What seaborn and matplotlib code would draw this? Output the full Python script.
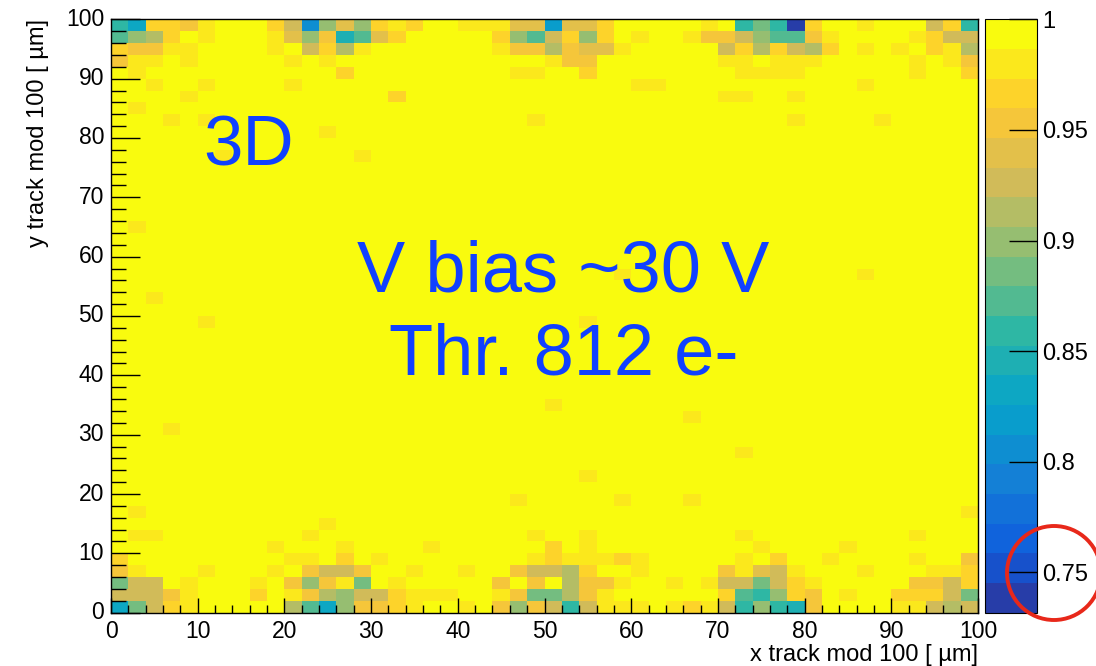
import numpy as np
import pandas as pd
import matplotlib
matplotlib.use("Agg")
import matplotlib.pyplot as plt
import seaborn as sns
from matplotlib.colors import ListedColormap, LinearSegmentedColormap
from matplotlib.patches import Ellipse
from matplotlib.ticker import FixedLocator, MultipleLocator, FuncFormatter

plt.rcParams['font.family'] = ['Liberation Sans', 'DejaVu Sans']

# ---------------- data (efficiency per 2x2 um bin, 50x50 bins) ----------------
N_BINS = 50
BIN_UM = 2.0
Z_MIN, Z_MAX = 0.7318, 1.0
N_CONTOURS = 20

# bottom rows (y bin 0..4), x bins 0..49
row_y0 = [0.833, 0.886, 0.926, 0.966, 0.980, 1, 1, 1, 1, 1,
          0.913, 0.873, 0.833, 0.900, 0.953, 0.953, 0.966, 0.980, 1, 1,
          0.980, 1, 0.953, 0.900, 0.953, 0.926, 0.859, 0.926, 0.980, 0.980,
          0.980, 1, 0.980, 0.966, 0.980, 0.926, 0.859, 0.900, 0.859, 0.846,
          0.953, 1, 1, 1, 1, 0.980, 0.980, 0.926, 0.913, 0.926]
row_y1 = [0.926, 0.926, 0.926, 0.953, 0.980, 1, 1, 1, 0.966, 1,
          0.980, 0.953, 0.913, 0.900, 0.926, 0.926, 0.966, 0.980, 0.980, 0.980,
          1, 1, 0.980, 0.953, 0.886, 0.886, 0.913, 0.953, 0.980, 1,
          1, 1, 1, 1, 1, 0.966, 0.873, 0.859, 0.900, 0.966,
          0.953, 1, 0.980, 1, 1, 0.966, 0.966, 0.966, 0.926, 0.886]
row_y2 = [0.886, 0.926, 0.926, 1, 0.980, 1, 1, 1, 0.980, 1,
          0.953, 0.900, 0.953, 0.980, 0.886, 1, 0.980, 1, 1, 1,
          1, 1, 0.953, 1, 0.953, 1, 0.913, 0.953, 0.953, 0.980,
          1, 1, 0.980, 1, 0.980, 0.926, 0.926, 0.886, 0.926, 0.966,
          0.980, 1, 1, 1, 1, 1, 0.953, 0.953, 0.926, 0.966]
row_y3 = [0.953, 0.980, 1, 1, 1, 0.980, 1, 1, 1, 0.980,
          1, 0.953, 0.926, 0.926, 0.953, 1, 1, 0.980, 1, 1,
          0.980, 1, 1, 0.953, 0.926, 0.926, 0.913, 0.966, 1, 1,
          0.980, 1, 1, 1, 1, 0.953, 0.980, 0.940, 0.926, 0.980,
          1, 1, 1, 0.980, 1, 1, 1, 0.980, 0.980, 0.966]
row_y4 = [0.966, 1, 1, 1, 1, 1, 1, 1, 1, 1,
          0.980, 0.980, 1, 0.966, 1, 0.980, 1, 1, 1, 1,
          1, 1, 1, 1, 0.980, 0.966, 0.980, 0.980, 0.980, 0.966,
          0.980, 1, 1, 1, 1, 1, 0.980, 1, 0.966, 1,
          1, 0.980, 1, 1, 1, 1, 0.980, 1, 1, 0.953]

# top rows (y bin 45..49)
row_y45 = [1, 0.980, 1, 1, 1, 1, 1, 1, 1, 1,
           1, 1, 1, 0.966, 1, 1, 1, 1, 1, 1,
           1, 1, 1, 0.980, 0.980, 1, 1, 0.966, 1, 1,
           1, 1, 1, 1, 1, 1, 0.980, 0.980, 0.980, 0.980,
           1, 1, 1, 1, 1, 1, 0.980, 1, 1, 0.966]
row_y46 = [0.953, 0.980, 0.980, 1, 0.980, 1, 1, 1, 1, 1,
           0.980, 1, 0.980, 1, 1, 1, 1, 1, 1, 1,
           1, 1, 1, 1, 1, 0.980, 0.953, 0.953, 1, 1,
           1, 1, 1, 1, 1, 0.980, 0.980, 1, 0.980, 0.980,
           0.980, 1, 1, 1, 1, 1, 0.980, 1, 0.980, 0.953]
row_y47 = [0.966, 0.953, 0.953, 0.980, 0.980, 1, 1, 1, 1, 0.980,
           1, 0.926, 0.966, 0.913, 0.980, 1, 1, 1, 1, 1,
           1, 1, 0.980, 0.953, 0.953, 0.913, 0.953, 0.940, 0.940, 0.980,
           1, 1, 1, 1, 1, 0.926, 0.966, 0.913, 0.966, 0.926,
           0.913, 0.966, 1, 0.980, 1, 0.980, 1, 0.966, 0.980, 0.913]
row_y48 = [0.873, 0.900, 0.913, 0.966, 1, 0.980, 1, 1, 1, 0.980,
           0.940, 0.900, 0.953, 0.846, 0.873, 0.940, 0.966, 1, 1, 1,
           1, 1, 0.966, 0.900, 0.873, 0.926, 0.966, 0.900, 0.966, 1,
           0.980, 1, 1, 0.980, 0.953, 0.953, 0.926, 0.900, 0.873, 0.873,
           0.953, 0.980, 1, 1, 1, 1, 0.980, 0.966, 0.926, 0.926]
row_y49 = [0.859, 0.833, 0.966, 0.966, 0.953, 0.980, 1, 1, 1, 0.966,
           0.926, 0.806, 0.900, 0.940, 0.900, 0.966, 0.980, 0.966, 1, 1,
           0.980, 0.980, 0.980, 0.940, 0.940, 0.819, 0.940, 0.940, 0.966, 1,
           1, 1, 1, 1, 0.980, 1, 0.859, 0.886, 0.859, 0.732,
           0.966, 1, 1, 0.980, 1, 1, 1, 0.926, 0.966, 0.859]

# isolated non-unity bins in the interior (x bin, y bin, efficiency)
spot_x = [2, 5, 10, 30, 31, 43, 4, 16, 35, 36, 39, 1, 3, 5, 24, 39, 44, 12, 6, 14,
          1, 29, 43, 19, 2, 5, 27, 25, 33, 3, 36, 27, 23, 29, 33, 1, 49, 12,
          1, 2, 11, 24, 27, 36, 46, 9, 13, 18, 25, 27, 37, 42]
spot_y = [44, 44, 44, 44, 44, 44, 43, 43, 43, 43, 43, 42, 41, 41, 41, 41, 41, 40, 38, 38,
          32, 28, 28, 27, 26, 24, 24, 17, 16, 15, 13, 11, 9, 9, 9, 8, 8, 7,
          6, 6, 6, 6, 6, 6, 6, 5, 5, 5, 5, 5, 5, 5]
spot_eff = [0.980, 0.980, 0.980, 0.980, 0.980, 0.980, 0.980, 0.966, 0.980, 0.980, 0.980,
            0.980, 0.980, 0.980, 0.980, 0.980, 0.980, 0.980, 0.980, 0.980,
            0.980, 0.980, 0.980, 0.980, 0.980, 0.980, 0.980, 0.980, 0.980, 0.980,
            0.980, 0.980, 0.980, 0.980, 0.980, 0.980, 0.980, 0.980,
            0.980, 0.980, 0.980, 0.980, 0.980, 0.980, 0.980,
            0.980, 0.980, 0.980, 0.966, 0.980, 0.980, 0.980]

cb_ticks = [0.75, 0.8, 0.85, 0.9, 0.95, 1.0]
cb_ticklabels = ["0.75", "0.8", "0.85", "0.9", "0.95", "1"]

# ---------------- build grid ----------------
grid = np.ones((N_BINS, N_BINS))
edge_rows = {0: row_y0, 1: row_y1, 2: row_y2, 3: row_y3, 4: row_y4,
             45: row_y45, 46: row_y46, 47: row_y47, 48: row_y48, 49: row_y49}
for yb, row in edge_rows.items():
    grid[yb, :] = row
for xb, yb, v in zip(spot_x, spot_y, spot_eff):
    grid[yb, xb] = v
df = pd.DataFrame(grid)

# ---------------- ROOT kBird palette, 20 contours ----------------
stops = [0.0, 0.125, 0.25, 0.375, 0.5, 0.625, 0.75, 0.875, 1.0]
red = [0.2082, 0.0592, 0.0780, 0.0232, 0.1802, 0.5301, 0.8186, 0.9956, 0.9764]
green = [0.1664, 0.3599, 0.5041, 0.6419, 0.7178, 0.7492, 0.7328, 0.7862, 0.9832]
blue = [0.5293, 0.8684, 0.8385, 0.7914, 0.6425, 0.4662, 0.3499, 0.1968, 0.0539]
base = LinearSegmentedColormap.from_list(
    "kbird", list(zip(stops, zip(red, green, blue))), N=255)
band_idx = [int((i + 0.99) * 255 / N_CONTOURS) for i in range(N_CONTOURS)]
cmap = ListedColormap([base(k) for k in band_idx])

# ---------------- figure ----------------
W, H = 1096, 666
fig = plt.figure(figsize=(W / 100, H / 100), dpi=100)
ax = fig.add_axes([111 / W, 53.3 / H, 867 / W, 593.4 / H])
cax = fig.add_axes([985 / W, 53.3 / H, 52 / W, 593.4 / H])

sns.heatmap(df, ax=ax, cmap=cmap, vmin=Z_MIN, vmax=Z_MAX, cbar_ax=cax,
            cbar_kws={"ticks": cb_ticks}, linewidths=0)
ax.set_xlim(0, N_BINS)
ax.set_ylim(0, N_BINS)

for s in ax.spines.values():
    s.set_visible(True)
    s.set_color("black")
    s.set_linewidth(1.0)

um_fmt = FuncFormatter(lambda v, p: f"{int(round(v * BIN_UM))}")
ax.xaxis.set_major_locator(FixedLocator(np.arange(0, N_BINS + 1, 5)))
ax.yaxis.set_major_locator(FixedLocator(np.arange(0, N_BINS + 1, 5)))
ax.xaxis.set_minor_locator(MultipleLocator(1))
ax.yaxis.set_minor_locator(MultipleLocator(1))
ax.xaxis.set_major_formatter(um_fmt)
ax.yaxis.set_major_formatter(um_fmt)

ax.tick_params(axis="x", which="major", direction="in", length=11, width=1.0,
               bottom=True, top=False, labelsize=16.5, pad=5, labelrotation=0,
               colors="black")
ax.tick_params(axis="x", which="minor", direction="in", length=5.5, width=1.0,
               bottom=True, top=False)
ax.tick_params(axis="y", which="major", direction="in", length=21, width=1.0,
               left=True, right=False, labelsize=16.5, pad=5, labelrotation=0,
               colors="black")
ax.tick_params(axis="y", which="minor", direction="in", length=11, width=1.0,
               left=True, right=False)

ax.set_xlabel("x track mod 100 [ µm]", fontsize=17, loc="right", labelpad=1)
ax.set_ylabel("y track mod 100 [ µm]", fontsize=17, loc="top", labelpad=12)

cb = ax.collections[0].colorbar
cb.outline.set_linewidth(0.8)
cb.outline.set_edgecolor("black")
cb.set_ticks(cb_ticks)
cb.set_ticklabels(cb_ticklabels)
cax.tick_params(direction="in", length=20, width=1.0, right=True, left=False,
                labelsize=17, pad=4, colors="black")
cax.minorticks_off()

txt_color = "#1040ff"
ax.text(10.6 / BIN_UM, 75.3 / BIN_UM, "3D", fontsize=51, color=txt_color,
        ha="left", va="baseline")
ax.text(52.2 / BIN_UM, 54.2 / BIN_UM, "V bias ~30 V", fontsize=52,
        color=txt_color, ha="center", va="baseline")
ax.text(52.2 / BIN_UM, 40.2 / BIN_UM, "Thr. 812 e-", fontsize=52,
        color=txt_color, ha="center", va="baseline")

circle = Ellipse((1054 / W, (H - 573) / H), width=94 / W, height=94 / H,
                 transform=fig.transFigure, fill=False, edgecolor="#e8281a",
                 linewidth=2.8, clip_on=False)
fig.add_artist(circle)

fig.savefig("out.png", dpi=100)
